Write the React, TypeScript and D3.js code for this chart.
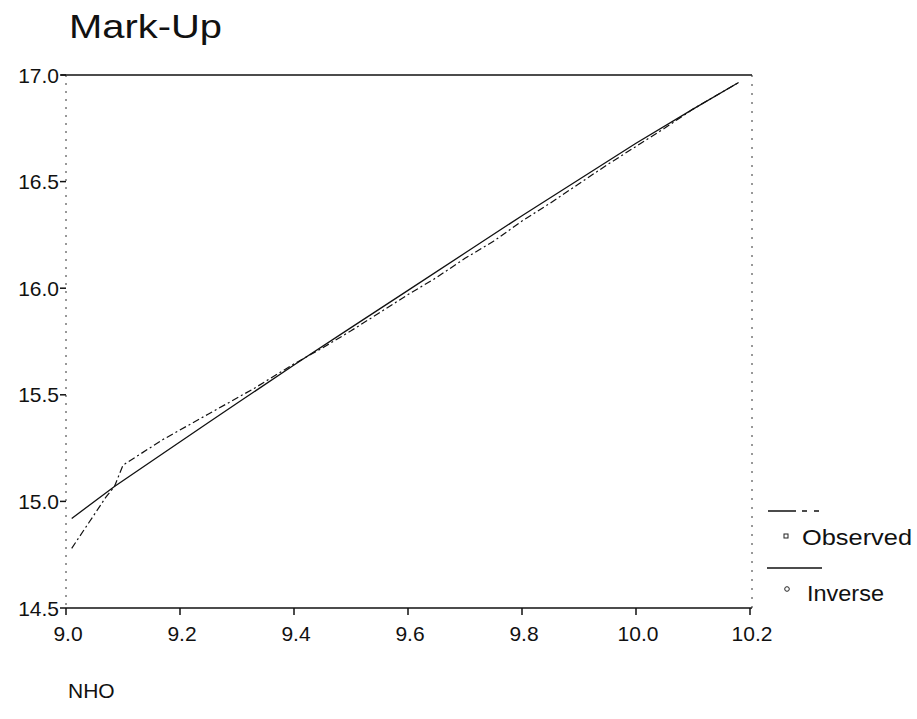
import React from 'react';
import * as d3 from 'd3';

const xTicks = [9.0, 9.2, 9.4, 9.6, 9.8, 10.0, 10.2];
const yTicks = [14.5, 15.0, 15.5, 16.0, 16.5, 17.0];
const seriesNames = ['Observed', 'Inverse'];

const observedX = [9.01, 9.04, 9.07, 9.085, 9.1, 9.17, 9.25, 9.33, 9.4, 9.45, 9.5, 9.55, 9.6, 9.65, 9.7, 9.75, 9.8, 9.85, 9.9, 9.95, 10.0, 10.05, 10.1, 10.18];
const observedY = [14.78, 14.9, 15.02, 15.07, 15.17, 15.29, 15.41, 15.53, 15.645, 15.72, 15.8, 15.885, 15.97, 16.05, 16.14, 16.22, 16.315, 16.4, 16.49, 16.58, 16.665, 16.75, 16.84, 16.965];

const inverseX = [9.01, 9.085, 9.17, 9.25, 9.3, 9.4, 9.5, 9.6, 9.7, 9.8, 9.9, 10.0, 10.1, 10.18];
const inverseY = [14.92, 15.07, 15.225, 15.37, 15.46, 15.64, 15.815, 15.99, 16.165, 16.34, 16.51, 16.68, 16.84, 16.965];

const FONT = '"Liberation Sans", Arial, Helvetica, sans-serif';

export default function App() {
  const x = d3.scaleLinear().domain([9.0, 10.2]).range([66, 750]);
  const y = d3.scaleLinear().domain([14.5, 17.0]).range([608, 75]);
  const line = d3
    .line<[number, number]>()
    .x((d) => x(d[0]))
    .y((d) => y(d[1]));
  const obs: [number, number][] = observedX.map((v, i) => [v, observedY[i]]);
  const inv: [number, number][] = inverseX.map((v, i) => [v, inverseY[i]]);
  const x0 = x(9.0);
  const x1 = x(10.2);
  const yTop = y(17.0);
  const yBot = y(14.5);

  return (
    <svg
      width={917}
      height={719}
      style={{ position: 'absolute', left: 0, top: 0, background: '#fff' }}
      fontFamily={FONT}
    >
      <rect x={0} y={0} width={917} height={719} fill="#fff" />
      <text x={69} y={38} fontSize={33} fill="#111" textLength={153} lengthAdjust="spacingAndGlyphs">
        Mark-Up
      </text>

      {/* frame */}
      <line x1={x0 - 5} x2={x1 + 2} y1={yTop} y2={yTop} stroke="#111" strokeWidth={1.6} />
      <line x1={x0} x2={x1 + 2} y1={yBot} y2={yBot} stroke="#111" strokeWidth={1.6} />
      <line x1={x0} x2={x0} y1={yTop} y2={yBot} stroke="#333" strokeWidth={1} strokeDasharray="2 6" />
      <line x1={x1 + 2} x2={x1 + 2} y1={yTop} y2={yBot} stroke="#333" strokeWidth={1} strokeDasharray="2 7" />

      {/* y ticks */}
      {yTicks.map((t) => (
        <g key={'y' + t}>
          <line x1={x0 - 6} x2={x0} y1={y(t)} y2={y(t)} stroke="#111" strokeWidth={1.5} />
          <text x={x0 - 7} y={y(t) + 7.5} fontSize={21} textAnchor="end" fill="#111">
            {t.toFixed(1)}
          </text>
        </g>
      ))}

      {/* x ticks */}
      {xTicks.map((t) => (
        <g key={'x' + t}>
          <line x1={x(t)} x2={x(t)} y1={yBot} y2={yBot + 7} stroke="#111" strokeWidth={1.5} />
          <text x={x(t) + 2} y={641} fontSize={21} textAnchor="middle" fill="#111">
            {t.toFixed(1)}
          </text>
        </g>
      ))}

      {/* series */}
      <path d={line(inv) || ''} fill="none" stroke="#111" strokeWidth={1.3} />
      <path d={line(obs) || ''} fill="none" stroke="#111" strokeWidth={1.2} strokeDasharray="7 3 2 3" />

      {/* legend */}
      <line x1={768} x2={822} y1={511} y2={511} stroke="#111" strokeWidth={1.3} strokeDasharray="28 6 5 7 5 40" />
      <rect x={784} y={534} width={4} height={4} fill="none" stroke="#222" strokeWidth={1} />
      <text x={802} y={545} fontSize={22} fill="#111" textLength={110} lengthAdjust="spacingAndGlyphs">
        {seriesNames[0]}
      </text>
      <line x1={767} x2={822} y1={568} y2={568} stroke="#111" strokeWidth={1.3} />
      <circle cx={787} cy={589} r={2.3} fill="none" stroke="#222" strokeWidth={1} />
      <text x={807} y={601} fontSize={22} fill="#111" textLength={77} lengthAdjust="spacingAndGlyphs">
        {seriesNames[1]}
      </text>

      <text x={68} y={698} fontSize={21} fill="#111">
        NHO
      </text>
    </svg>
  );
}
